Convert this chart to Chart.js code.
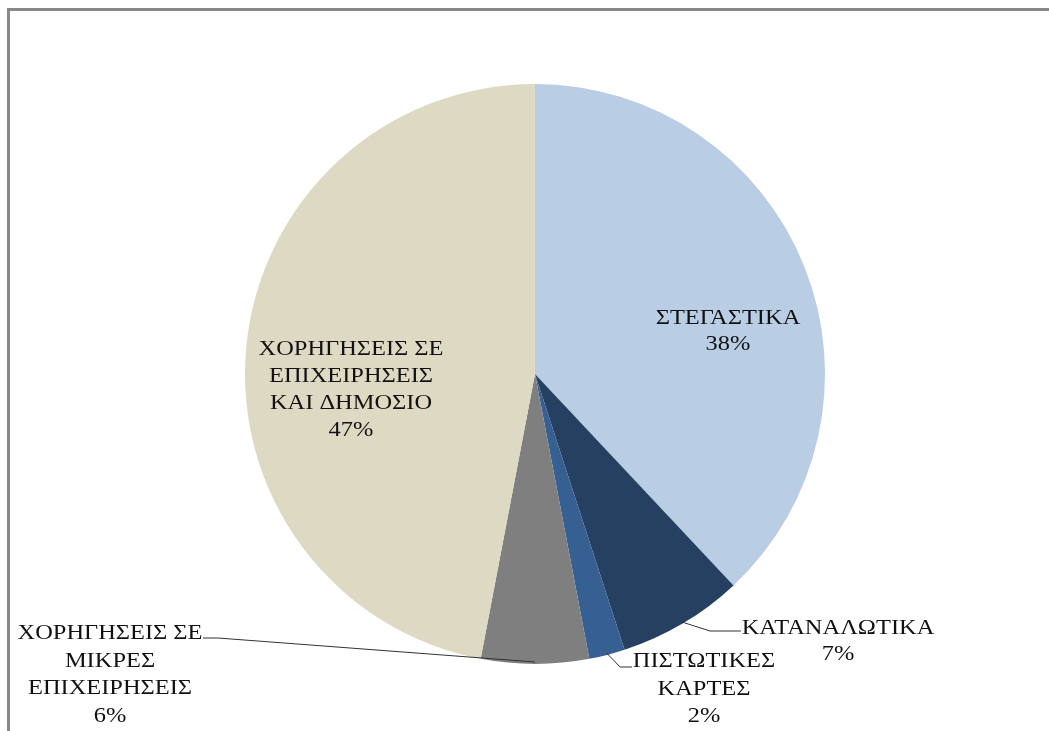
<!DOCTYPE html>
<html>
<head>
<meta charset="utf-8">
<script src="https://cdn.jsdelivr.net/npm/chart.js@4.4.1/dist/chart.umd.min.js"></script>
<style>
    html, body { margin: 0; padding: 0; background: #fff; overflow: hidden; }
    #wrap { position: relative; width: 1049px; height: 731px; }
    #frame {
        position: absolute; left: 7px; top: 8px;
        width: 1100px; height: 800px;
        border-top: 3px solid #888; border-left: 3px solid #888;
        box-sizing: border-box; pointer-events: none;
    }
    canvas { position: absolute; left: 0; top: 0; }
</style>
</head>
<body>
<div id="wrap">
    <canvas id="loanChart" width="1049" height="731"></canvas>
    <div id="frame"></div>
</div>
<script>
// Loan portfolio breakdown
const categories = [
    ['ΣΤΕΓΑΣΤΙΚΑ'],
    ['ΚΑΤΑΝΑΛΩΤΙΚΑ'],
    ['ΠΙΣΤΩΤΙΚΕΣ', 'ΚΑΡΤΕΣ'],
    ['ΧΟΡΗΓΗΣΕΙΣ ΣΕ', 'ΜΙΚΡΕΣ', 'ΕΠΙΧΕΙΡΗΣΕΙΣ'],
    ['ΧΟΡΗΓΗΣΕΙΣ ΣΕ', 'ΕΠΙΧΕΙΡΗΣΕΙΣ', 'ΚΑΙ ΔΗΜΟΣΙΟ']
];
const shares = [38, 7, 2, 6, 47];
const sliceColors = ['#B9CDE5', '#254061', '#376092', '#7F7F7F', '#DDD9C3'];

// label blocks: x/y = centre of the first line's capitals, lh = line step;
// outside ones get a leader line back to the slice
const labelSpots = [
    { x: 728, y: 317, lh: 26 },
    { x: 838, y: 626.5, lh: 26.5, elbow: [710, 631], end: [741, 631] },
    { x: 704, y: 660, lh: 27.5, elbow: [620, 667], end: [632, 667] },
    { x: 110, y: 632, lh: 27.5, elbow: [218, 638], end: [203, 638] },
    { x: 351, y: 347.5, lh: 27 }
];

const sliceLabels = {
    id: 'sliceLabels',
    afterDraw(chart) {
        const ctx = chart.ctx;
        const arcs = chart.getDatasetMeta(0).data;
        const fontPx = 22;
        const stretch = 1.11; // serif text is set a bit wide
        const capMid = fontPx * 0.331;

        arcs.forEach((arc, i) => {
            const spot = labelSpots[i];
            if (spot.elbow) {
                const mid = (arc.startAngle + arc.endAngle) / 2;
                const sx = arc.x + Math.cos(mid) * (arc.outerRadius - 2);
                const sy = arc.y + Math.sin(mid) * (arc.outerRadius - 2);
                ctx.save();
                ctx.strokeStyle = '#333';
                ctx.lineWidth = 1;
                ctx.beginPath();
                ctx.moveTo(sx, sy);
                ctx.lineTo(spot.elbow[0], spot.elbow[1]);
                ctx.lineTo(spot.end[0], spot.end[1]);
                ctx.stroke();
                ctx.restore();
            }
            const lines = categories[i].concat([shares[i] + '%']);
            lines.forEach((txt, k) => {
                ctx.save();
                ctx.translate(spot.x, spot.y + k * spot.lh + capMid);
                ctx.scale(stretch, 1);
                ctx.font = fontPx + 'px "Liberation Serif", "Times New Roman", serif';
                ctx.fillStyle = '#111';
                ctx.textAlign = 'center';
                ctx.textBaseline = 'alphabetic';
                ctx.fillText(txt, 0, 0);
                ctx.restore();
            });
        });
    }
};

new Chart(document.getElementById('loanChart'), {
    type: 'pie',
    data: {
        labels: categories,
        datasets: [{
            data: shares,
            backgroundColor: sliceColors,
            borderWidth: 0
        }]
    },
    options: {
        responsive: false,
        animation: false,
        layout: { padding: { top: 84, bottom: 67, left: 245, right: 224 } },
        plugins: {
            legend: { display: false },
            tooltip: { enabled: false }
        }
    },
    plugins: [sliceLabels]
});
</script>
</body>
</html>
